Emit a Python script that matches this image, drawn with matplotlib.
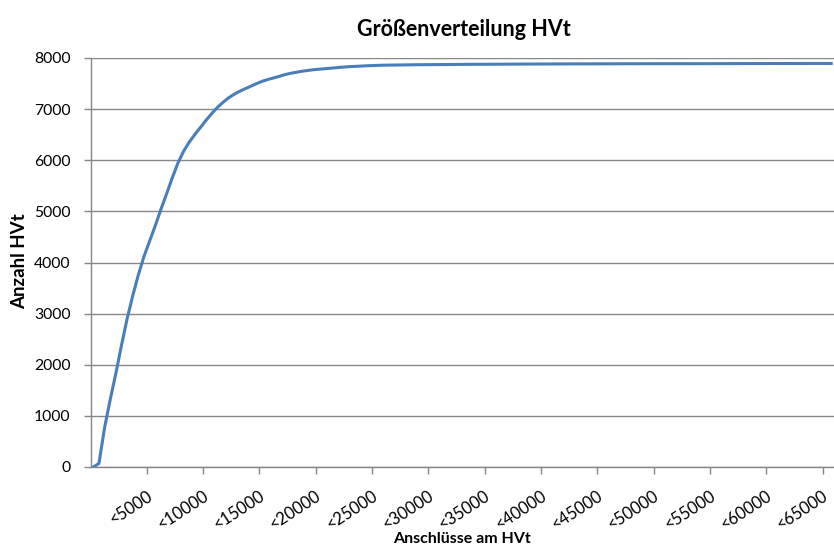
import matplotlib
matplotlib.use("Agg")
import matplotlib.pyplot as plt
import matplotlib.transforms as mtransforms
import numpy as np

# categories: upper bounds of connection-count bins (step 500)
bin_upper = list(range(500, 66001, 500))
# cumulative number of HVt per bin
anzahl_hvt = [
    0, 70, 770, 1320, 1830, 2380, 2900, 3350, 3760, 4120,
    4420, 4720, 5040, 5340, 5650, 5940, 6170, 6350, 6500, 6640,
    6780, 6910, 7030, 7130, 7220, 7290, 7350, 7400, 7450, 7500,
    7545, 7580, 7610, 7640, 7675, 7700, 7720, 7740, 7755, 7770,
    7780, 7790, 7800, 7810, 7820, 7828, 7834, 7840, 7845, 7850,
    7855, 7858, 7860, 7862, 7864, 7866, 7867, 7868, 7869, 7870,
    7871, 7872, 7873, 7873, 7874, 7874, 7875, 7876, 7876, 7877,
    7878, 7878, 7879, 7879, 7880, 7880, 7881, 7881, 7882, 7882,
    7883, 7883, 7884, 7884, 7884, 7885, 7885, 7885, 7886, 7886,
    7886, 7887, 7887, 7887, 7887, 7888, 7888, 7888, 7888, 7888,
    7889, 7889, 7889, 7889, 7889, 7889, 7890, 7890, 7890, 7890,
    7890, 7890, 7890, 7891, 7891, 7891, 7891, 7891, 7891, 7891,
    7892, 7892, 7892, 7892, 7892, 7892, 7892, 7892, 7893, 7893,
    7893, 7893,
]
tick_values = list(range(5000, 65001, 5000))
tick_labels = ["<%d" % v for v in tick_values]

title = "Größenverteilung HVt"
xlabel = "Anschlüsse am HVt"
ylabel = "Anzahl HVt"

plt.rcParams['font.family'] = ['Lato', 'DejaVu Sans']

fig = plt.figure(figsize=(8.34, 5.49), dpi=100)
ax = fig.add_axes([90.5/834, 1-467/549, 1-90.5/834, (467-58)/549])

x = np.arange(len(bin_upper))
ax.plot(x, anzahl_hvt, color="#4A7EBB", lw=2.2, solid_joinstyle='round', zorder=3)

ax.set_xlim(-0.5, len(bin_upper) - 0.5)
ax.set_ylim(0, 8000)
ax.set_yticks(range(0, 8001, 1000))
ax.yaxis.grid(True, color="#878787", lw=1.0)
ax.set_axisbelow(True)

tick_pos = [bin_upper.index(v) + 0.5 for v in tick_values]
ax.set_xticks(tick_pos)
ax.set_xticklabels(tick_labels, rotation=33, ha='right', va='center',
                   rotation_mode='anchor', fontsize=12)
ax.tick_params(axis='x', length=5, width=1, color="#878787", pad=15)
ax.tick_params(axis='y', length=5, width=1, color="#878787", labelsize=11.3, pad=9.5)
shift = mtransforms.ScaledTranslation(4/100, 0, fig.dpi_scale_trans)
for lab in ax.get_xticklabels():
    lab.set_transform(lab.get_transform() + shift)

for s in ['top', 'right']:
    ax.spines[s].set_visible(False)
for s in ['left', 'bottom']:
    ax.spines[s].set_color("#878787")
    ax.spines[s].set_linewidth(1.0)

fig.text(464/834, 1-30/549, title, ha='center', va='center', fontsize=15.5, fontweight='bold')
fig.text(462/834, 1-539/549, xlabel, ha='center', va='center', fontsize=11.5, fontweight='bold')
fig.text(20/834, 1-261/549, ylabel, ha='center', va='center', rotation=90, fontsize=13.5, fontweight='bold')

fig.savefig("out.png", dpi=100)
